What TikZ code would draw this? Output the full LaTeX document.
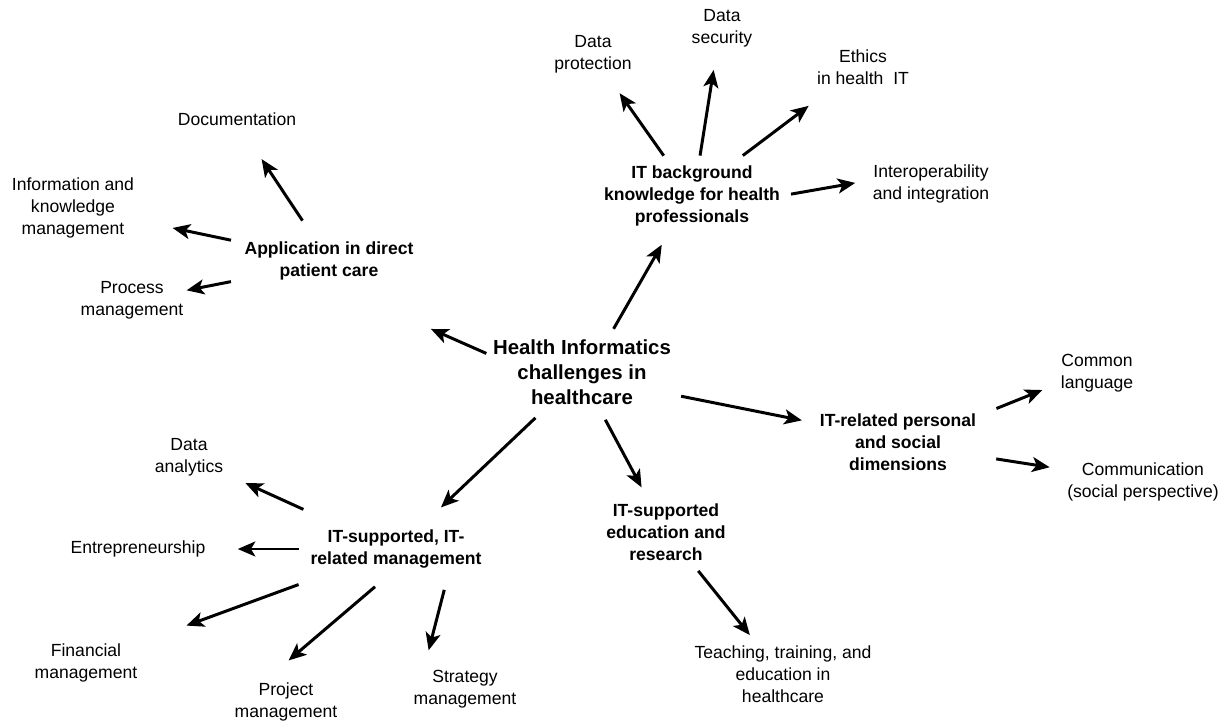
\documentclass[tikz,border=0pt]{standalone}
\usepackage{fontspec}
\setmainfont{Liberation Sans}
\usetikzlibrary{arrows.meta}
\newcommand{\nsz}{\fontsize{10}{12.5}\selectfont}
\newcommand{\bsz}{\fontsize{11.6}{14.2}\selectfont\bfseries}

\begin{document}
\begin{tikzpicture}[x=0.02cm,y=-0.02cm,
      leaf/.style={align=center,inner sep=0pt,font=\nsz},
      hub/.style={align=center,inner sep=0pt,font=\nsz\bfseries},
      arr/.style={-{Stealth[length=10pt,width=8.5pt,inset=2.5pt]},line width=1.7pt}]
      \useasboundingbox (0,0) rectangle (1231,723);
      % centre and main topics
      \node[align=center,inner sep=0pt,font=\bsz] (hic) at (582,372) {Health Informatics\\challenges in\\healthcare};
      \node[hub] (app)  at (329,261) {Application in direct\\patient care};
      \node[hub] (itbg) at (692,196) {IT background\\knowledge for health\\professionals};
      \node[hub] (pers) at (898,442) {IT-related personal\\and social\\dimensions};
      \node[hub] (edu)  at (666,532) {IT-supported\\education and\\research};
      \node[hub] (mgmt) at (396,549) {IT-supported, IT-\\related management};
      % sub topics
      \node[leaf] (doc)     at (237,119)  {Documentation};
      \node[leaf] (info)    at (73,208)   {Information and\\knowledge\\management};
      \node[leaf] (proc)    at (132,300)  {Process\\management};
      \node[leaf] (dprot)   at (593,54)   {Data\\protection};
      \node[leaf] (dsec)    at (722,28)   {Data\\security};
      \node[leaf] (ethics)  at (863,67)   {Ethics\\in health~ IT};
      \node[leaf] (interop) at (931,184)  {Interoperability\\and integration};
      \node[leaf] (lang)    at (1097,373) {Common\\language};
      \node[leaf] (comm)    at (1143,482) {Communication\\(social perspective)};
      \node[leaf] (teach)   at (783,674)  {Teaching, training, and\\education in\\healthcare};
      \node[leaf] (dana)    at (189,457)  {Data\\analytics};
      \node[leaf] (entr)    at (138,549)  {Entrepreneurship};
      \node[leaf] (fin)     at (86,663)   {Financial\\management};
      \node[leaf] (proj)    at (286,702)  {Project\\management};
      \node[leaf] (strat)   at (465,689)  {Strategy\\management};
      % arrows from the centre
      \draw[arr,shorten <=1.4mm,shorten >=24mm] (hic.170) -- (app.248);
      \draw[arr,shorten <=2.4mm,shorten >=4.2mm] (hic.52) -- (itbg.237);
      \draw[arr,shorten <=2mm,shorten >=3.6mm] (hic.-14) -- (pers.167);
      \draw[arr,shorten <=3.4mm,shorten >=3.6mm] (hic.-65) -- (edu.119);
      \draw[arr,shorten <=3.8mm,shorten >=6.4mm] (hic.225) -- (mgmt.42);
      % arrows to the sub topics
      \draw[arr,shorten <=5mm,shorten >=8mm] (app.123) -- (doc.-70);
      \draw[arr,shorten <=2.7mm,shorten >=7.8mm] (app.168) -- (info.-11);
      \draw[arr,shorten <=2.7mm,shorten >=0.6mm] (app.192) -- (proc.10);
      \draw[arr,shorten <=2.4mm,shorten >=4.9mm] (itbg.125) -- (dprot.-57);
      \draw[arr,shorten <=2mm,shorten >=4.6mm] (itbg.78) -- (dsec.256);
      \draw[arr,shorten <=3.3mm,shorten >=7mm] (itbg.39) -- (ethics.214);
      \draw[arr,shorten <=2.2mm,shorten >=3.5mm] (itbg.east) -- (interop.176);
      \draw[arr,shorten <=4.3mm,shorten >=3.9mm] (pers.18) -- (lang.195);
      \draw[arr,shorten <=4mm,shorten >=3.5mm] (pers.-10) -- (comm.171);
      \draw[arr,shorten <=2.6mm,shorten >=2.6mm] (edu.-50) -- (teach.131);
      \draw[arr,shorten <=9.7mm,shorten >=4.8mm] (mgmt.158) -- (dana.-25);
      \draw[arr,shorten <=2.2mm,shorten >=6.4mm] (mgmt.west) -- (entr.east);
      \draw[arr,shorten <=9.3mm,shorten >=10.4mm] (mgmt.200) -- (fin.north east);
      \draw[arr,shorten <=5.6mm,shorten >=6.8mm] (mgmt.-89) -- (proj.140);
      \draw[arr,shorten <=4.4mm,shorten >=4mm] (mgmt.-20) -- (strat.155);
\end{tikzpicture}
\end{document}
